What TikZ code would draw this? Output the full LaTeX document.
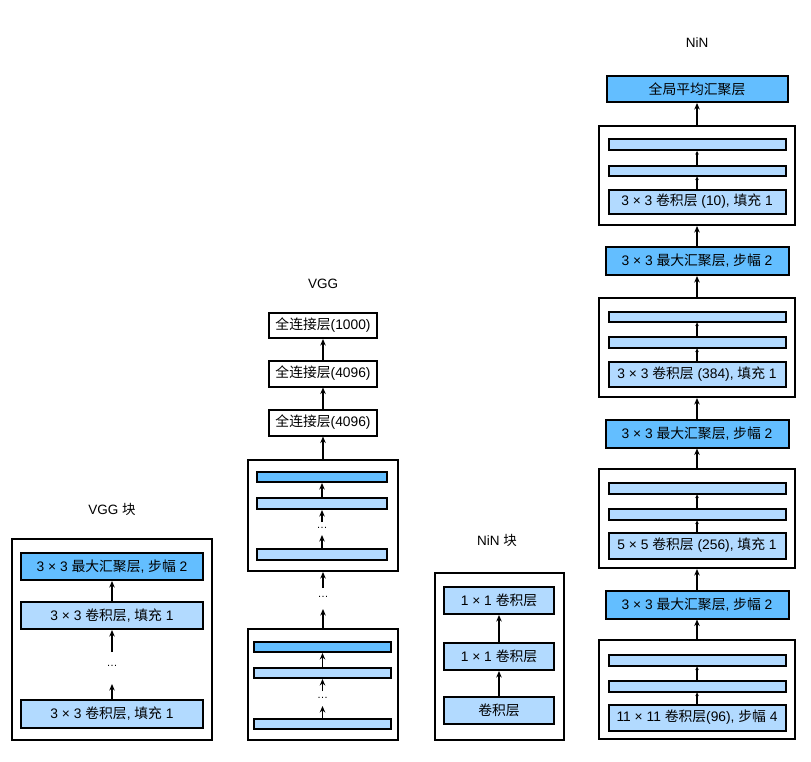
\documentclass[tikz,border=0pt]{standalone}
\usepackage{fontspec}
\setmainfont{Liberation Sans}
\newfontfamily\cjk{Noto Sans CJK SC}
\usetikzlibrary{arrows.meta}
\definecolor{dblue}{RGB}{99,190,255}
\definecolor{lblue}{RGB}{178,218,255}
\begin{document}
\begin{tikzpicture}[x=1pt,y=-1pt,
  lay/.style={draw,line width=2pt,inner sep=0pt,font=\fontsize{13.8}{15}\selectfont},
  dark/.style={lay,fill=dblue},
  light/.style={lay,fill=lblue},
  plain/.style={lay,fill=white},
  outer/.style={draw,line width=2pt,inner sep=0pt},
  arr/.style={-{Stealth[length=6.5pt,width=5.5pt]},line width=1.8pt},
  sarr/.style={-{Stealth[length=3.5pt,width=3.5pt]},line width=1.3pt},
  ttl/.style={font=\fontsize{13.5}{15}\selectfont,inner sep=0pt},
  dotsn/.style={font=\fontsize{11}{13}\selectfont,inner sep=0pt}]
\fill[white] (0,0) rectangle (811,761);
\useasboundingbox (0,0) rectangle (811,761);

% ---------------- VGG block ----------------
\node[ttl] (tvb) at (112,509) {VGG {\cjk 块}};
\node[outer,minimum width=200,minimum height=201] (vbo) at (112,639.5) {};
\node[dark,minimum width=182,minimum height=27] (vmax) at (112,566.5) {3 × 3 {\cjk 最大汇聚层}, {\cjk 步幅} 2};
\node[light,minimum width=182,minimum height=27] (vconv1) at (112,615.5) {3 × 3 {\cjk 卷积层}, {\cjk 填充} 1};
\node[dotsn] (vdots) at (112,666) {…};
\node[light,minimum width=182,minimum height=28] (vconv0) at (112,714) {3 × 3 {\cjk 卷积层}, {\cjk 填充} 1};
\coordinate (vd1) at (112,652);
\coordinate (vd2) at (112,684);
\draw[arr] (vconv1.north) -- (vmax.south);
\draw[arr] (vd1) -- (vconv1.south);
\draw[arr] (vconv0.north) -- (vd2);

% ---------------- VGG ----------------
\node[ttl] (tv) at (323,284) {VGG};
\node[plain,minimum width=108,minimum height=25] (fc3) at (323,325.5) {{\cjk 全连接层}(1000)};
\node[plain,minimum width=108,minimum height=26] (fc2) at (323,373.5) {{\cjk 全连接层}(4096)};
\node[plain,minimum width=108,minimum height=26] (fc1) at (323,422.5) {{\cjk 全连接层}(4096)};
\node[outer,minimum width=150,minimum height=111] (oa) at (323,515.5) {};
\node[dark,minimum width=130,minimum height=10] (a1) at (322,477) {};
\node[light,minimum width=130,minimum height=11] (a2) at (322,503.5) {};
\node[dotsn] (adots) at (322,528) {…};
\node[light,minimum width=130,minimum height=11] (a3) at (322,554.5) {};
\coordinate (ad1) at (322,522);
\coordinate (ad2) at (322,535);
\draw[arr] (a2.north) -- (a1.south);
\draw[arr] (ad1) -- (a2.south);
\draw[arr] (a3.north) -- (ad2);
\node[dotsn] (mdots) at (323,597) {…};
\coordinate (md1) at (323,588);
\coordinate (md2) at (323,609);
\node[outer,minimum width=150,minimum height=111] (ob) at (323,684.5) {};
\node[dark,minimum width=137,minimum height=10] (b1) at (322.5,647) {};
\node[light,minimum width=137,minimum height=10] (b2) at (322.5,673) {};
\node[dotsn] (bdots) at (322.5,698) {…};
\node[light,minimum width=137,minimum height=10] (b3) at (322.5,724) {};
\coordinate (bd1) at (322.5,691);
\coordinate (bd2) at (322.5,706);
\draw[arr] (b2.north) -- (b1.south);
\draw[arr] (bd1) -- (b2.south);
\draw[arr] (b3.north) -- (bd2);
\draw[arr] (ob.north) -- (md2);
\draw[arr] (md1) -- (oa.south);
\draw[arr] (oa.north) -- (fc1.south);
\draw[arr] (fc1.north) -- (fc2.south);
\draw[arr] (fc2.north) -- (fc3.south);

% ---------------- NiN block ----------------
\node[ttl] (tnb) at (497,540) {NiN {\cjk 块}};
\node[outer,minimum width=129,minimum height=167] (nbo) at (499,656.5) {};
\node[light,minimum width=110,minimum height=27] (n1) at (499,600.5) {1 × 1 {\cjk 卷积层}};
\node[light,minimum width=110,minimum height=27] (n2) at (499,656.5) {1 × 1 {\cjk 卷积层}};
\node[light,minimum width=110,minimum height=27] (n3) at (499,710) {{\cjk 卷积层}};
\draw[arr] (n3.north) -- (n2.south);
\draw[arr] (n2.north) -- (n1.south);

% ---------------- NiN ----------------
\node[ttl] (tn) at (697,43) {NiN};
\node[dark,minimum width=181,minimum height=26] (gap) at (697,89) {{\cjk 全局平均汇聚层}};
\node[outer,minimum width=196,minimum height=99] (o1) at (697,175.5) {};
\node[light,minimum width=177,minimum height=11] (c1a) at (697,144.5) {};
\node[light,minimum width=177,minimum height=10] (c1b) at (697,170.5) {};
\node[light,minimum width=177,minimum height=24] (c1c) at (697,201.5) {3 × 3 {\cjk 卷积层} (10), {\cjk 填充} 1};
\node[dark,minimum width=183,minimum height=28] (mp1) at (697,261) {3 × 3 {\cjk 最大汇聚层}, {\cjk 步幅} 2};
\node[outer,minimum width=196,minimum height=99] (o2) at (697,347.5) {};
\node[light,minimum width=177,minimum height=10] (c2a) at (697,316.5) {};
\node[light,minimum width=177,minimum height=11] (c2b) at (697,342) {};
\node[light,minimum width=177,minimum height=25] (c2c) at (697,374) {3 × 3 {\cjk 卷积层} (384), {\cjk 填充} 1};
\node[dark,minimum width=183,minimum height=28] (mp2) at (697,433.5) {3 × 3 {\cjk 最大汇聚层}, {\cjk 步幅} 2};
\node[outer,minimum width=196,minimum height=99] (o3) at (697,518.5) {};
\node[light,minimum width=177,minimum height=11] (c3a) at (697,488) {};
\node[light,minimum width=177,minimum height=11] (c3b) at (697,514) {};
\node[light,minimum width=177,minimum height=26] (c3c) at (697,545.5) {5 × 5 {\cjk 卷积层} (256), {\cjk 填充} 1};
\node[dark,minimum width=183,minimum height=28] (mp3) at (697,604.5) {3 × 3 {\cjk 最大汇聚层}, {\cjk 步幅} 2};
\node[outer,minimum width=196,minimum height=99] (o4) at (697,689.5) {};
\node[light,minimum width=177,minimum height=11] (c4a) at (697,660) {};
\node[light,minimum width=177,minimum height=11] (c4b) at (697,686) {};
\node[light,minimum width=177,minimum height=26] (c4c) at (697,717.5) {11 × 11 {\cjk 卷积层}(96), {\cjk 步幅} 4};
\foreach \k in {1,2,3,4}{
  \draw[sarr] (c\k c.north) -- (c\k b.south);
  \draw[sarr] (c\k b.north) -- (c\k a.south);
}
\draw[arr] (o4.north) -- (mp3.south);
\draw[arr] (mp3.north) -- (o3.south);
\draw[arr] (o3.north) -- (mp2.south);
\draw[arr] (mp2.north) -- (o2.south);
\draw[arr] (o2.north) -- (mp1.south);
\draw[arr] (mp1.north) -- (o1.south);
\draw[arr] (o1.north) -- (gap.south);
\end{tikzpicture}
\end{document}
